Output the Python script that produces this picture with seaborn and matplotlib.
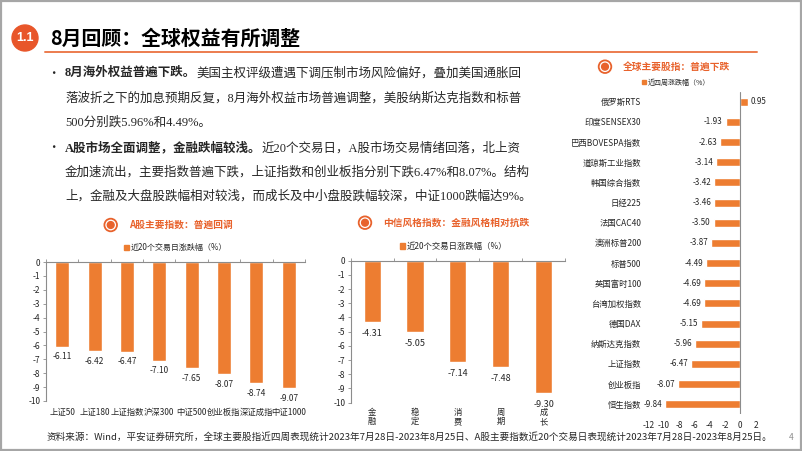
import matplotlib
matplotlib.use('Agg')
import matplotlib.pyplot as plt
from matplotlib.patches import Circle, Rectangle, Patch
import seaborn as sns

# ── Data ──────────────────────────────────────────────────
a_share_names = ['上证50', '上证180', '上证指数', '沪深300', '中证500',
                 '创业板指', '深证成指', '中证1000']
a_share_chg = [-6.11, -6.42, -6.47, -7.10, -7.65, -8.07, -8.74, -9.07]

style_names = ['金\n融', '稳\n定', '消\n费', '周\n期', '成\n长']
style_chg = [-4.31, -5.05, -7.14, -7.48, -9.30]

global_names = ['俄罗斯RTS', '印度SENSEX30', '巴西BOVESPA指数', '道琼斯工业指数',
                '韩国综合指数', '日经225', '法国CAC40', '澳洲标普200', '标普500',
                '英国富时100', '台湾加权指数', '德国DAX', '纳斯达克指数', '上证指数',
                '创业板指', '恒生指数']
global_chg = [0.95, -1.93, -2.63, -3.14, -3.42, -3.46, -3.50, -3.87, -4.49,
              -4.69, -4.69, -5.15, -5.96, -6.47, -8.07, -9.84]

bar_yticks = list(range(-10, 1))
hbar_xticks = list(range(-12, 3, 2))

legend_20d = '近20个交易日涨跌幅（%）'
legend_4w = '近四周涨跌幅（%）'

# ── Style ─────────────────────────────────────────────────
ORANGE = '#ED7D31'
TITLE_ORANGE = '#E8622C'
GRAY = '#8C8C8C'
TEXT = '#262626'
BODY_FONT = ['Liberation Serif', 'Noto Sans CJK SC']

sns.set_style('white')
plt.rcParams['font.family'] = ['Noto Sans CJK SC', 'DejaVu Sans']
plt.rcParams['axes.unicode_minus'] = False

W, H = 802, 451
fig = plt.figure(figsize=(W / 100, H / 100), dpi=100)

# background axes in pixel coordinates for slide decorations
bg = fig.add_axes([0, 0, 1, 1])
bg.set_xlim(0, W)
bg.set_ylim(H, 0)
bg.axis('off')

bg.add_patch(Rectangle((0.8, 0.8), W - 1.6, H - 1.6, fill=False,
                       edgecolor='#A6A6A6', lw=1.6))

# ── Slide title ───────────────────────────────────────────
bg.add_patch(Circle((25, 38), 13, color='#E8562A'))
bg.text(25, 38, '1.1', color='white', fontsize=9, fontweight='bold',
        ha='center', va='center', family='Liberation Sans')
bg.text(50, 38, '8月回顾：全球权益有所调整', fontsize=14.3, fontweight='bold',
        color='black', ha='left', va='center')
bg.plot([45, 757], [52, 52], color='#EC7C4E', lw=1.4)

# ── Bullet text ───────────────────────────────────────────
lines = [
    (73, True, '8月海外权益普遍下跌。', '美国主权评级遭遇下调压制市场风险偏好，叠加美国通胀回'),
    (98, False, '', '落波折之下的加息预期反复，8月海外权益市场普遍调整，美股纳斯达克指数和标普'),
    (122, False, '', '500分别跌5.96%和4.49%。'),
    (148, True, 'A股市场全面调整，金融跌幅较浅。', '近20个交易日，A股市场交易情绪回落，北上资'),
    (172, False, '', '金加速流出，主要指数普遍下跌，上证指数和创业板指分别下跌6.47%和8.07%。结构'),
    (196, False, '', '上，金融及大盘股跌幅相对较浅，而成长及中小盘股跌幅较深，中证1000跌幅达9%。'),
]
FS = 9.0
for y, bullet, bold, rest in lines:
    if bullet:
        bg.text(47, y, '•', fontsize=FS, color=TEXT, ha='left', va='center')
    if bold:
        t = bg.text(65, y, bold, fontsize=FS, fontweight='bold', color=TEXT,
                    ha='left', va='center', family=BODY_FONT)
        bg.annotate(rest, xy=(1, 0.5), xycoords=t, fontsize=FS, color=TEXT,
                    ha='left', va='center', family=BODY_FONT)
    else:
        bg.text(65, y, rest, fontsize=FS, color=TEXT, ha='left', va='center',
                family=BODY_FONT)


def chart_title(x, y, text):
    bg.add_patch(Circle((x, y), 6.3, fill=False, edgecolor=TITLE_ORANGE, lw=1.3))
    bg.add_patch(Circle((x, y), 3.4, color=TITLE_ORANGE))
    bg.text(x + 18, y, text, fontsize=7, fontweight='bold', color=TITLE_ORANGE,
            ha='left', va='center')


def style_vbar(ax, n):
    ax.set_facecolor('none')
    ax.set_ylim(-10, 0)
    ax.set_yticks(bar_yticks)
    ax.set_yticklabels([str(v) for v in bar_yticks])
    ax.set_xlabel('')
    ax.set_ylabel('')
    for s in ['bottom', 'right']:
        ax.spines[s].set_visible(False)
    for s in ['top', 'left']:
        ax.spines[s].set_color(GRAY)
        ax.spines[s].set_linewidth(0.8)
    ax.set_xticks([i - 0.5 for i in range(n + 1)], minor=True)
    ax.tick_params(axis='x', which='major', length=0, labelsize=6, pad=5,
                   colors=TEXT)
    ax.tick_params(axis='x', which='minor', top=True, bottom=False, length=2.5,
                   width=0.6, color=GRAY, direction='out')
    ax.tick_params(axis='y', left=True, length=2, width=0.6, color=GRAY,
                   labelsize=6, pad=2, labelcolor=TEXT)


# ── Chart 1: A-share indices ──────────────────────────────
ax1 = fig.add_axes([46 / W, 1 - 401 / H, 259 / W, 139 / H])
sns.barplot(x=a_share_names, y=a_share_chg, color=ORANGE, saturation=1,
            width=0.43, ax=ax1)
style_vbar(ax1, len(a_share_names))
ax1.bar_label(ax1.containers[0], fmt='%.2f', padding=4, fontsize=6, color=TEXT)
ax1.legend(handles=[Patch(color=ORANGE, label=legend_20d)], loc='lower center',
           bbox_to_anchor=(0.5, 1.04), frameon=False, fontsize=5.8,
           handlelength=0.6, handleheight=0.6, handletextpad=0.3, borderpad=0)
chart_title(110.7, 225, 'A股主要指数：普遍回调')

# ── Chart 2: CITIC style indices ──────────────────────────
ax2 = fig.add_axes([350.7 / W, 1 - 402.7 / H, 214.3 / W, 142 / H])
sns.barplot(x=style_names, y=style_chg, color=ORANGE, saturation=1,
            width=0.4, ax=ax2)
style_vbar(ax2, len(style_names))
ax2.tick_params(axis='x', which='major', pad=4)
for lab in ax2.get_xticklabels():
    lab.set_linespacing(1.0)
ax2.bar_label(ax2.containers[0], fmt='%.2f', padding=5, fontsize=6.5, color=TEXT)
ax2.legend(handles=[Patch(color=ORANGE, label=legend_20d)], loc='lower center',
           bbox_to_anchor=(0.48, 1.04), frameon=False, fontsize=6,
           handlelength=0.6, handleheight=0.6, handletextpad=0.3, borderpad=0)
chart_title(365, 222.7, '中信风格指数：金融风格相对抗跌')

# ── Chart 3: global indices ───────────────────────────────
ax3 = fig.add_axes([648.3 / W, 1 - 414.4 / H, 107.4 / W, 322.8 / H])
sns.barplot(x=global_chg, y=global_names, orient='h', color=ORANGE,
            saturation=1, width=0.4, ax=ax3)
ax3.set_facecolor('none')
ax3.set_xlim(-12, 2)
ax3.set_xticks(hbar_xticks)
ax3.set_xticklabels([str(v) for v in hbar_xticks])
ax3.set_xlabel('')
ax3.set_ylabel('')
for s in ax3.spines.values():
    s.set_visible(False)
ax3.axvline(0, color=GRAY, lw=0.8)
ax3.tick_params(axis='x', length=0, labelsize=6, pad=5, labelcolor=TEXT)
ax3.tick_params(axis='y', length=0, labelsize=6, pad=5, labelcolor=TEXT)
ax3.bar_label(ax3.containers[0], fmt='%.2f', padding=2, fontsize=5.8, color=TEXT)
ax3.legend(handles=[Patch(color=ORANGE, label=legend_4w)], loc='lower center',
           bbox_to_anchor=(0.26, 1.005), frameon=False, fontsize=5,
           handlelength=0.6, handleheight=0.6, handletextpad=0.3, borderpad=0)
chart_title(605, 66.7, '全球主要股指：普遍下跌')

# ── Footer ────────────────────────────────────────────────
bg.text(47, 437, '资料来源：Wind，平安证券研究所，全球主要股指近四周表现统计2023年7月28日-2023年8月25日、'
        'A股主要指数近20个交易日表现统计2023年7月28日-2023年8月25日。',
        fontsize=6.9, color=TEXT, ha='left', va='center')
bg.text(791, 437, '4', fontsize=6, color=GRAY, ha='center', va='center')

fig.savefig('out.png', dpi=100)
